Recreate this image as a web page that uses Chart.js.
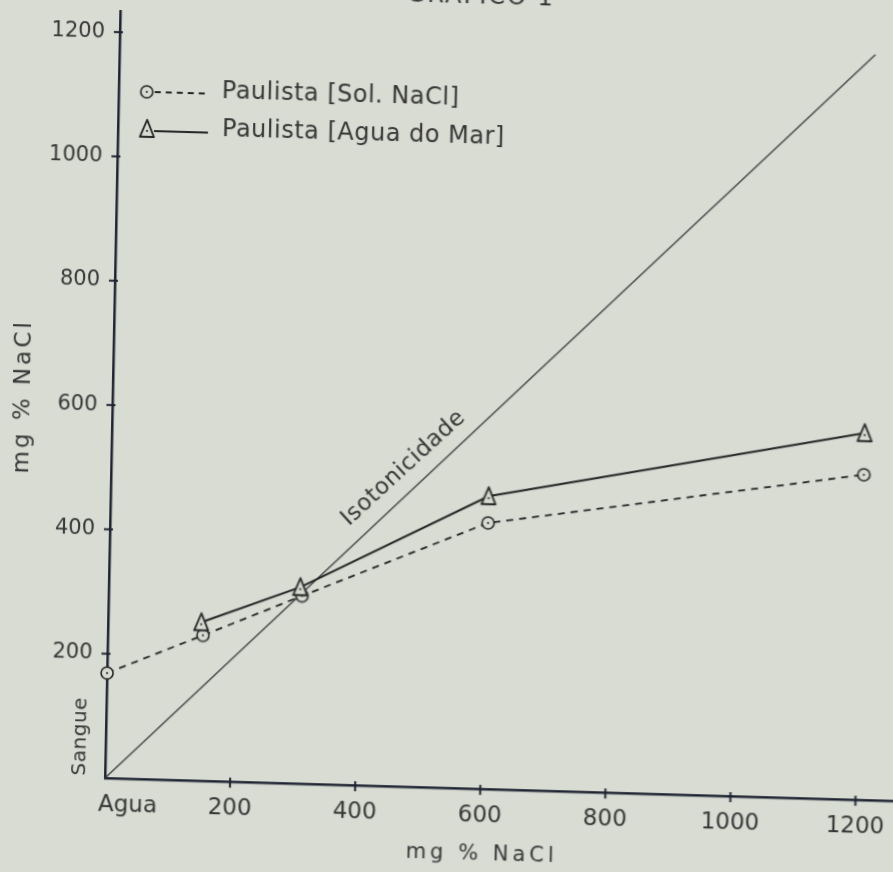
<!DOCTYPE html>
<html>
<head>
<meta charset="utf-8">
<script src="https://cdn.jsdelivr.net/npm/chart.js@4"></script>
<style>
  html, body { margin: 0; padding: 0; }
  body { width: 893px; height: 872px; overflow: hidden; background: #d9dcd3; position: relative; }
  /* the scanned page is slightly skewed, so the whole canvas gets the same skew */
  #wrap { position: absolute; left: -30px; top: -30px; width: 953px; height: 932px;
          transform-origin: 135px 808px; transform: matrix(1, 0.029, -0.020, 1, 0, 0); }
</style>
</head>
<body>
<div id="wrap"><canvas id="chart" width="953" height="932"></canvas></div>
<script>
// values
const solX = [0, 152, 309, 604, 1203];
const solY = [169, 234, 302, 428, 523];
const marX = [149, 306, 604, 1203];
const marY = [255, 316, 471, 590];
const isoX = [0, 1208];
const isoY = [0, 1199];

const xTickValues = [0, 200, 400, 600, 800, 1000, 1200];
const xTickLabels = ["Agua", "200", "400", "600", "800", "1000", "1200"];
const yTickValues = [0, 200, 400, 600, 800, 1000, 1200];
const yTickLabels = ["", "200", "400", "600", "800", "1000", "1200"];

const seriesNames = ["Paulista [Sol. NaCl]", "Paulista [Agua do Mar]"];

const bg = "#d9dcd3";
const ink = "#232323";
const textInk = "#363636";
const axisInk = "#1d2230";
const FONT = '"DejaVu Sans"';

// point markers: circle with a dot, triangle with a dot
function circleMarker() {
    const c = document.createElement("canvas");
    c.width = c.height = 16;
    const g = c.getContext("2d");
    g.beginPath();
    g.arc(8, 8, 6, 0, Math.PI * 2);
    g.fillStyle = bg;
    g.fill();
    g.lineWidth = 1.6;
    g.strokeStyle = ink;
    g.stroke();
    g.beginPath();
    g.arc(8, 8, 1.1, 0, Math.PI * 2);
    g.fillStyle = ink;
    g.fill();
    return c;
}

function triangleMarker() {
    const c = document.createElement("canvas");
    c.width = 20;
    c.height = 22;
    const g = c.getContext("2d");
    g.beginPath();
    g.moveTo(10, 2);
    g.lineTo(3, 19);
    g.lineTo(17, 19);
    g.closePath();
    g.fillStyle = bg;
    g.fill();
    g.lineWidth = 1.9;
    g.strokeStyle = ink;
    g.lineJoin = "round";
    g.stroke();
    g.beginPath();
    g.arc(10, 13, 1.1, 0, Math.PI * 2);
    g.fillStyle = ink;
    g.fill();
    return c;
}

const circleImg = circleMarker();
const triangleImg = triangleMarker();

function toPoints(xs, ys) {
    return xs.map((v, i) => ({ x: v, y: ys[i] }));
}

// axes ticks, labels, legend and annotations
const paperPlugin = {
    id: "paper",
    afterDraw(chart) {
        const { ctx, scales: { x, y } } = chart;
        const x0 = x.getPixelForValue(0);
        const y0 = y.getPixelForValue(0);

        ctx.save();
        ctx.strokeStyle = axisInk;
        ctx.lineWidth = 2;
        xTickValues.forEach(v => {
            if (v === 0) return;
            const px = x.getPixelForValue(v);
            ctx.beginPath();
            ctx.moveTo(px, y0 - 4);
            ctx.lineTo(px, y0 + 6);
            ctx.stroke();
        });
        yTickValues.forEach(v => {
            if (v === 0) return;
            const py = y.getPixelForValue(v);
            ctx.beginPath();
            ctx.moveTo(x0 - 6, py);
            ctx.lineTo(x0 + 3, py);
            ctx.stroke();
        });

        ctx.fillStyle = textInk;
        ctx.textBaseline = "middle";

        ctx.font = "23px " + FONT;
        ctx.textAlign = "center";
        xTickValues.forEach((v, i) => {
            const px = x.getPixelForValue(v) + (v === 0 ? 23 : 0);
            ctx.fillText(xTickLabels[i], px, y0 + 27);
        });

        ctx.font = "21px " + FONT;
        ctx.textAlign = "right";
        yTickValues.forEach((v, i) => {
            if (!yTickLabels[i]) return;
            ctx.fillText(yTickLabels[i], x0 - 15, y.getPixelForValue(v));
        });

        // legend
        ctx.strokeStyle = ink;
        ctx.lineWidth = 1.8;
        ctx.setLineDash([6, 5]);
        ctx.beginPath();
        ctx.moveTo(x0 + 36, y0 - 687);
        ctx.lineTo(x0 + 90, y0 - 687);
        ctx.stroke();
        ctx.setLineDash([]);
        ctx.beginPath();
        ctx.moveTo(x0 + 36, y0 - 648);
        ctx.lineTo(x0 + 90, y0 - 648);
        ctx.stroke();
        ctx.drawImage(circleImg, x0 + 28 - 8, y0 - 687 - 8);
        ctx.drawImage(triangleImg, x0 + 29 - 10, y0 - 650 - 11);

        ctx.font = "24px " + FONT;
        ctx.textAlign = "left";
        ctx.letterSpacing = "0.5px";
        ctx.fillText(seriesNames[0], x0 + 103, y0 - 689);
        ctx.fillText(seriesNames[1], x0 + 104, y0 - 651);

        // isotonicity label along the line
        ctx.save();
        ctx.translate(x.getPixelForValue(467), y.getPixelForValue(512));
        ctx.rotate(-44 * Math.PI / 180);
        ctx.font = "23px " + FONT;
        ctx.textAlign = "center";
        ctx.fillText("Isotonicidade", 0, 0);
        ctx.restore();

        // "Sangue" beside the origin
        ctx.save();
        ctx.translate(x0 - 25, y0 - 41);
        ctx.rotate(-Math.PI / 2);
        ctx.font = "20px " + FONT;
        ctx.letterSpacing = "0.5px";
        ctx.textAlign = "center";
        ctx.fillText("Sangue", 0, 0);
        ctx.restore();

        // axis titles
        ctx.save();
        ctx.translate(x0 - 89, y0 - 379);
        ctx.rotate(-Math.PI / 2);
        ctx.font = "23px " + FONT;
        ctx.letterSpacing = "3px";
        ctx.textAlign = "center";
        ctx.fillText("mg % NaCl", 0, 0);
        ctx.restore();

        ctx.font = "21px " + FONT;
        ctx.letterSpacing = "4px";
        ctx.textAlign = "center";
        ctx.fillText("mg % NaCl", x0 + 378, y0 + 66);

        // figure heading, cut off by the top of the page
        ctx.font = "24px " + FONT;
        ctx.letterSpacing = "2px";
        ctx.textBaseline = "alphabetic";
        ctx.fillText("GRAFICO 1", x0 + 360, y0 - 785);
        ctx.restore();
    }
};

new Chart(document.getElementById("chart").getContext("2d"), {
    type: "scatter",
    data: {
        datasets: [
            {
                label: seriesNames[1],
                data: toPoints(marX, marY),
                showLine: true,
                borderColor: ink,
                borderWidth: 2,
                pointStyle: triangleImg,
                clip: false,
            },
            {
                label: seriesNames[0],
                data: toPoints(solX, solY),
                showLine: true,
                borderColor: ink,
                borderWidth: 1.8,
                borderDash: [7, 6],
                pointStyle: circleImg,
                clip: false,
            },
            {
                label: "Isotonicidade",
                data: toPoints(isoX, isoY),
                showLine: true,
                borderColor: "#3a3e3e",
                borderWidth: 1.3,
                pointRadius: 0,
                clip: false,
            },
        ],
    },
    options: {
        responsive: false,
        animation: false,
        devicePixelRatio: 1,
        layout: { padding: { top: 41, right: 30, left: 0, bottom: 0 } },
        plugins: {
            legend: { display: false },
            tooltip: { enabled: false },
        },
        scales: {
            x: {
                type: "linear",
                min: 0,
                max: 1260,
                grid: { display: false },
                border: { display: true, width: 2.5, color: axisInk },
                ticks: { display: false, stepSize: 200, includeBounds: false },
                afterFit(scale) { scale.height = 124; },
            },
            y: {
                type: "linear",
                min: 0,
                max: 1234,
                grid: { display: false },
                border: { display: true, width: 2.5, color: axisInk },
                ticks: { display: false, stepSize: 200, includeBounds: false },
                afterFit(scale) { scale.width = 135; },
            },
        },
    },
    plugins: [paperPlugin],
});
</script>
</body>
</html>
